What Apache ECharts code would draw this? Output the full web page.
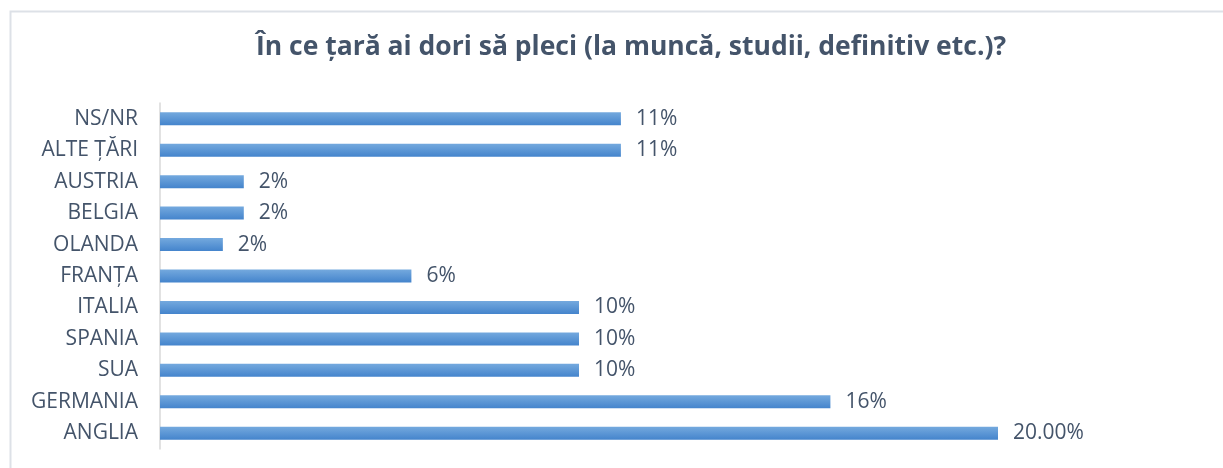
<!DOCTYPE html>
<html>
<head>
<meta charset="utf-8">
<script src="https://cdn.jsdelivr.net/npm/echarts@6/dist/echarts.min.js"></script>
<style>
  html, body { margin: 0; padding: 0; background: #fff; }
  #chart { width: 1223px; height: 468px; }
</style>
</head>
<body>
<div id="chart"></div>
<script>
// top to bottom, as in the picture
const countries = ['NS/NR', 'ALTE ȚĂRI', 'AUSTRIA', 'BELGIA', 'OLANDA', 'FRANȚA', 'ITALIA', 'SPANIA', 'SUA', 'GERMANIA', 'ANGLIA'];
const shares = [11, 11, 2, 2, 1.5, 6, 10, 10, 10, 16, 20];
const shareLabels = ['11%', '11%', '2%', '2%', '2%', '6%', '10%', '10%', '10%', '16%', '20.00%'];

const textColor = '#44546a';
const font = 'Open Sans';

const myChart = echarts.init(document.getElementById('chart'));
const option = {
    animation: false,
    title: {
        text: 'În ce țară ai dori să pleci (la muncă, studii, definitiv etc.)?',
        left: 626,
        textAlign: 'center',
        top: 29,
        textStyle: {
            color: textColor,
            fontFamily: font,
            fontWeight: 'bold',
            fontSize: 26.5,
        },
    },
    graphic: [{
        type: 'polyline',
        shape: { points: [[10.5, 468], [10.5, 11.5], [1223, 11.5]] },
        style: { stroke: '#dde1e7', lineWidth: 2, fill: null },
        silent: true,
    }],
    grid: {
        left: 160,
        right: 225,
        top: 103,
        bottom: 19,
    },
    xAxis: {
        type: 'value',
        min: 0,
        max: 20,
        show: false,
    },
    yAxis: {
        type: 'category',
        inverse: true,
        data: countries,
        axisLine: { show: true, lineStyle: { color: '#d9d9d9', width: 1.5 } },
        axisTick: { show: false },
        axisLabel: {
            margin: 22,
            color: textColor,
            fontFamily: font,
            fontSize: 21,
        },
    },
    series: [{
        type: 'bar',
        data: shares,
        barWidth: 13,
        itemStyle: {
            color: new echarts.graphic.LinearGradient(0, 0, 0, 1, [
                { offset: 0, color: '#74a9de' },
                { offset: 1, color: '#4484cc' },
            ]),
        },
        label: {
            show: true,
            position: 'right',
            distance: 15,
            color: textColor,
            fontFamily: font,
            fontSize: 21,
            formatter: p => shareLabels[p.dataIndex],
        },
    }],
};
myChart.setOption(option);
</script>
</body>
</html>
